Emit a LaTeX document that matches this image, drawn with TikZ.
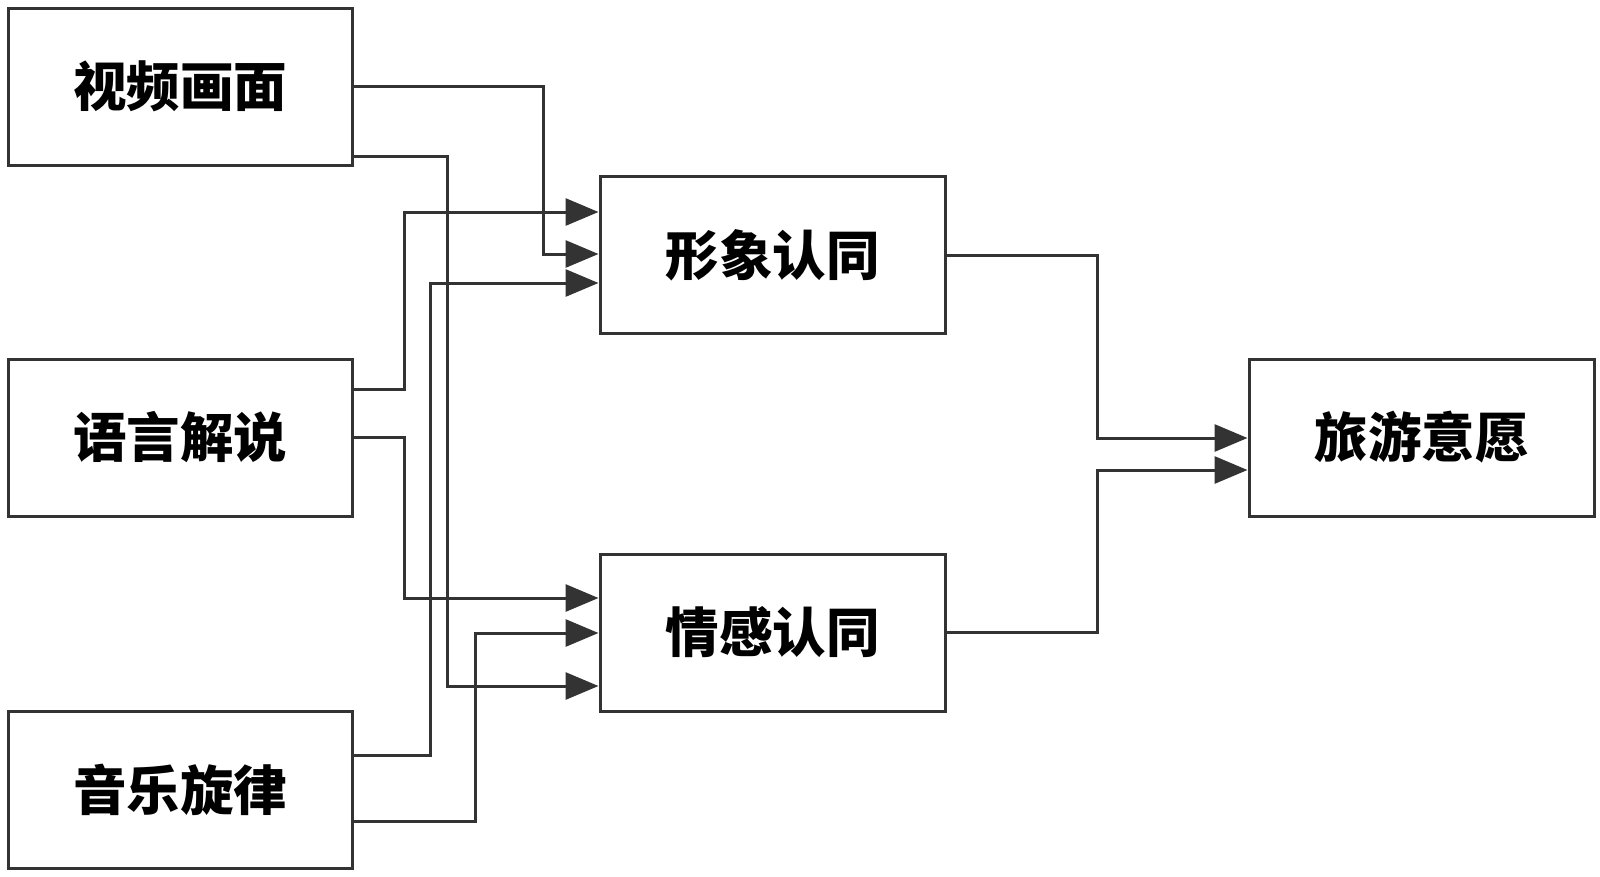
\documentclass[tikz,border=0pt]{standalone}
\usepackage{fontspec}
\newfontfamily\cjk{Noto Sans CJK SC}
\usetikzlibrary{arrows.meta}
\definecolor{ln}{HTML}{333333}
\begin{document}
\begin{tikzpicture}[x=1pt,y=-1pt,
  box/.style={draw=ln,line width=3pt,fill=white,minimum width=344pt,minimum height=157pt,inner sep=0pt,
    font=\cjk\bfseries\fontsize{53.5}{60}\selectfont},
  conn/.style={draw=ln,line width=3pt,-{Triangle[length=33pt,width=27pt]}}]
\useasboundingbox[fill=white] (0,0) rectangle (1600,876);
\newcommand\lbl[1]{\raisebox{-3pt}{#1}}
\node[box] (v) at (180,86.5) {\lbl{视频画面}};
\node[box] (l) at (180,437.5) {\lbl{语言解说}};
\node[box] (m) at (180,789.5) {\lbl{音乐旋律}};
\node[box,minimum width=345pt] (xx) at (772.5,255) {\lbl{形象认同}};
\node[box,minimum width=345pt] (q) at (772.5,632.5) {\lbl{情感认同}};
\node[box,minimum width=345pt] (t) at (1421.5,437.5) {\lbl{旅游意愿}};
% to 形象认同
\draw[conn] (v.east) -| (543,254) -- (xx.west |- 0,254);
\draw[conn] (l.east |- 0,389) -| (404,212) -- (xx.west |- 0,212);
\draw[conn] (m.east |- 0,755) -| (430,283) -- (xx.west |- 0,283);
% to 情感认同
\draw[conn] (v.east |- 0,156) -| (447,686) -- (q.west |- 0,686);
\draw[conn] (l.east) -| (404,598) -- (q.west |- 0,598);
\draw[conn] (m.east |- 0,821) -| (475,633) -- (q.west |- 0,633);
% to 旅游意愿
\draw[conn] (xx.east) -| (1097,438) -- (t.west |- 0,438);
\draw[conn] (q.east) -| (1097,470) -- (t.west |- 0,470);
\end{tikzpicture}
\end{document}
